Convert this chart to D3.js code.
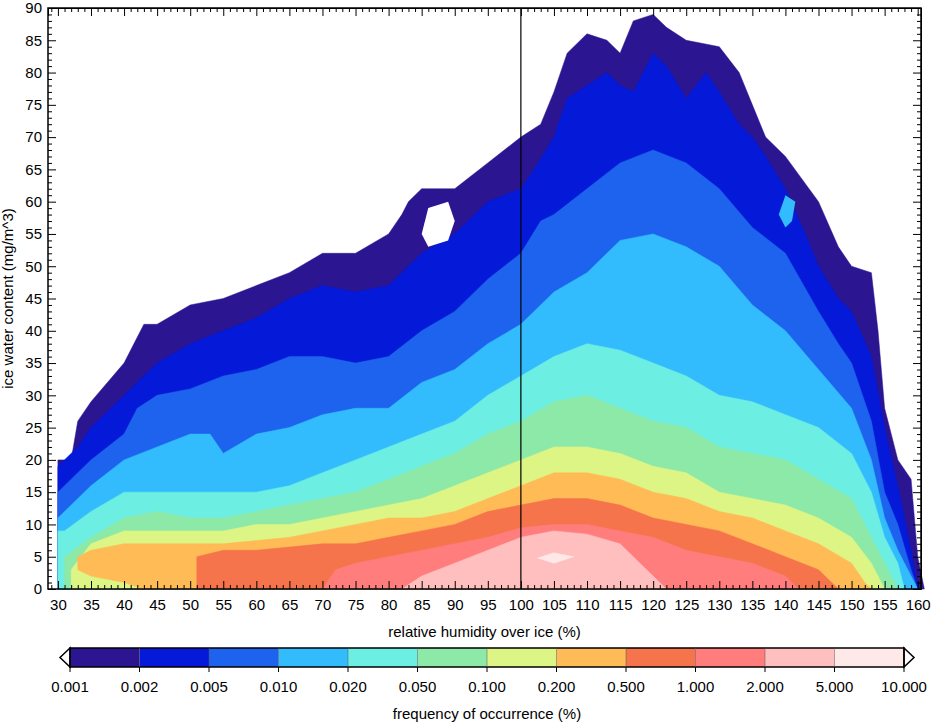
<!DOCTYPE html>
<html><head><meta charset="utf-8">
<script src="https://cdn.jsdelivr.net/npm/d3@7"></script>
<style>body{margin:0;background:#fff}text{font-family:"Liberation Sans Narrow","Liberation Sans",sans-serif}</style>
</head><body><svg id="c" width="935" height="723"></svg>
<script>
// contour levels and colours (frequency of occurrence, %)
var levels = ["0.001","0.002","0.005","0.010","0.020","0.050","0.100","0.200","0.500","1.000","2.000","5.000","10.000"];
var colors = ["#2b1590","#0519d8","#1e63ee","#33bcfd","#6ceee2","#8ce9a8","#ddf585","#ffbb56","#f5744b","#ff7d7d","#ffbfbf","#ffe8e8"];

// each band: [rh, top, bottom] of the region where frequency >= level
var band0 = [[30,0,0],[30,20,0],[32,20,0],[33,26,0],[35,29,0],[40,35,0],[43,41,0],[45,41,0],[50,44,0],[55,45,0],[60,47,0],[65,49,0],[70,52,0],[75,52,0],[80,55,0],[82,58,0],[83,60,0],[85,62,0],[90,62,0],[95,66,0],[100,70,0],[103,72,0],[105,77,0],[107,83,0],[110,86,0],[113,85,0],[115,83,0],[117,88,0],[120,89,0],[122,87,0],[125,85,0],[130,84,0],[133,80,0],[135,75,0],[137,70,0],[140,67,0],[145,60,0],[148,53,0],[150,50,0],[153,49,0],[154,40,0],[155,28,0],[157,20,0],[159,17,0],[160,5,0],[161,0,0]];
var band1 = [[30,0,0],[30,19,0],[33,22,0],[35,25,0],[40,30,0],[45,35,0],[50,38,0],[55,40,0],[60,42,0],[65,45,0],[70,47,0],[75,46,0],[80,47,0],[85,52,0],[90,55,0],[95,60,0],[100,62,0],[102,65,0],[105,70,0],[107,76,0],[110,78,0],[113,80,0],[115,78,0],[117,77,0],[120,83,0],[122,81,0],[125,76,0],[128,80,0],[130,77,0],[133,72,0],[135,70,0],[137,67,0],[140,62,0],[143,55,0],[145,50,0],[148,45,0],[150,43,0],[153,36,0],[155,25,0],[157,16,0],[159,6,0],[160,0,0]];
var band2 = [[30,0,0],[30,15,0],[33,18,0],[35,20,0],[40,24,0],[42,28,0],[45,30,0],[50,31,0],[55,33,0],[60,34,0],[65,36,0],[70,36,0],[75,35,0],[80,36,0],[85,40,0],[90,43,0],[95,48,0],[100,52,0],[103,57,0],[105,58,0],[110,62,0],[115,66,0],[120,68,0],[125,66,0],[130,62,0],[135,56,0],[140,52,0],[145,43,0],[148,38,0],[150,35,0],[153,26,0],[155,15,0],[157,10,0],[159,3,0],[160,0,0]];
var band3 = [[30,0,0],[30,11,0],[35,16,0],[40,20,0],[45,22,0],[50,24,0],[53,24,0],[55,21,0],[60,24,0],[65,25,0],[70,27,0],[75,28,0],[80,28,0],[85,32,0],[90,34,0],[95,38,0],[100,41,0],[105,46,0],[110,49,0],[115,54,0],[120,55,0],[125,53,0],[130,50,0],[135,44,0],[140,40,0],[145,34,0],[150,28,0],[153,20,0],[155,11,0],[157,6,0],[159,2,0],[160,0,0]];
var band4 = [[30,0,0],[30,9,0],[31,9,0],[35,12,0],[40,15,0],[45,15,0],[50,15,0],[55,15,0],[60,15,0],[65,16,0],[70,18,0],[75,20,0],[80,22,0],[85,24,0],[90,26,0],[95,30,0],[100,33,0],[105,36,0],[110,38,0],[115,37,0],[120,35,0],[125,33,0],[130,30,0],[135,29,0],[140,27,0],[145,25,0],[150,21,0],[153,15,0],[155,8,0],[157,4,0],[158,0,0]];
var band5 = [[31,0,0],[31,5,0],[35,8,0],[40,11,0],[45,12,0],[50,11,0],[55,11,0],[60,12,0],[65,13,0],[70,14,0],[75,15,0],[80,17,0],[85,19,0],[90,21,0],[95,24,0],[100,26,0],[105,29,0],[110,30,0],[115,28,0],[120,26,0],[125,25,0],[130,22,0],[135,21,0],[140,20,0],[145,17,0],[150,14,0],[153,8,0],[156,2,0],[157,0,0]];
var band6 = [[32,0,0],[32,3,0],[35,7,0],[40,9,0],[45,9,0],[50,9,0],[55,9,0],[60,10,0],[65,10,0],[70,11,0],[75,12,0],[80,13,0],[85,14,0],[90,16,0],[95,18,0],[100,20,0],[105,22,0],[110,22,0],[115,21,0],[120,19,0],[125,18,0],[130,15,0],[135,14,0],[140,13,0],[145,11,0],[150,8,0],[153,4,0],[155,0,0]];
var band7 = [[33,4,4],[33,5,3],[35,6,2],[40,7,1],[43,7,0],[50,7,0],[55,7,0],[60,7.5,0],[65,8,0],[70,9,0],[75,10,0],[80,11,0],[85,11,0],[90,12,0],[95,14,0],[100,16,0],[105,18,0],[110,18,0],[115,17,0],[120,15,0],[125,14,0],[130,12,0],[135,11,0],[140,9,0],[145,7,0],[150,4,0],[152,1,0],[153,0,0]];
var band8 = [[51,0,0],[51,5,0],[55,6,0],[60,6,0],[65,6.5,0],[70,7,0],[75,7,0],[80,8,0],[85,9,0],[90,10,0],[95,12,0],[100,13,0],[105,14,0],[110,14,0],[115,13,0],[120,11,0],[125,10,0],[130,9,0],[135,7,0],[140,5,0],[145,3,0],[148,0,0]];
var band9 = [[70,0,0],[72,3,0],[75,4,0],[80,5,0],[85,6,0],[90,7,0],[95,8,0],[100,9.5,0],[105,10,0],[110,10,0],[115,9,0],[120,8,0],[125,6,0],[130,5,0],[135,4,0],[140,2,0],[142,0,0]];
var band10 = [[82,0,0],[85,2,0],[90,4,0],[95,6,0],[100,8,0],[105,9,0],[110,8.5,0],[115,7,0],[118,4,0],[120,2,0],[122,0,0]];
var band11 = [[102.5,4.8,4.8],[105,5.6,4],[108,5,5]];
var bands = [band0,band1,band2,band3,band4,band5,band6,band7,band8,band9,band10,band11];

// islands inside the upper bands
var holeWhite = [[85,55],[86,59],[89,60],[90,57],[89,54],[86,53]];
var holeSky = [[139,58],[140,61],[141.5,60],[141,57],[140,56]];

var xTicks = d3.range(30, 161, 5);
var yTicks = d3.range(0, 91, 5);

var svg = d3.select("#c");
var L = 48, R = 921, T = 8, B = 589;
var x = d3.scaleLinear().domain([28.5, 160.5]).range([L, R]);
var y = d3.scaleLinear().domain([0, 90]).range([B, T]);

var area = d3.area().x(function(d){return x(d[0]);}).y0(function(d){return y(d[2]);}).y1(function(d){return y(d[1]);});
var plot = svg.append("g");
bands.forEach(function(b, i){
  plot.append("path").attr("d", area(b)).attr("fill", colors[i]).attr("stroke", colors[i]).attr("stroke-width", 0.5);
});
var line = d3.line().x(function(d){return x(d[0]);}).y(function(d){return y(d[1]);});
plot.append("path").attr("d", line(holeWhite) + "Z").attr("fill", "#fff");
plot.append("path").attr("d", line(holeSky) + "Z").attr("fill", colors[3]);

plot.append("line").attr("x1", x(100)).attr("x2", x(100)).attr("y1", T).attr("y2", B).attr("stroke", "#000").attr("stroke-width", 1.2);

// axes
function ax(g, gen){ g.call(gen); g.select(".domain").remove(); g.selectAll("text").attr("font-size", 15).attr("fill", "#000"); }
var xa = d3.axisBottom(x).tickValues(xTicks).tickSize(-8).tickPadding(10);
svg.append("g").attr("transform", "translate(0," + B + ")").call(function(g){ax(g, xa);});
svg.append("g").attr("transform", "translate(0," + T + ")").call(d3.axisTop(x).tickValues(xTicks).tickSize(-8).tickFormat(""));
var xm = d3.range(29, 161, 1).filter(function(v){return v % 5;});
svg.append("g").attr("transform", "translate(0," + B + ")").call(d3.axisBottom(x).tickValues(xm).tickSize(-4).tickFormat("")).select(".domain").remove();
svg.append("g").attr("transform", "translate(0," + T + ")").call(d3.axisTop(x).tickValues(xm).tickSize(-4).tickFormat("")).select(".domain").remove();
var ya = d3.axisLeft(y).tickValues(yTicks).tickSize(-8).tickPadding(6);
svg.append("g").attr("transform", "translate(" + L + ",0)").call(function(g){ax(g, ya);});
svg.append("g").attr("transform", "translate(" + R + ",0)").call(d3.axisRight(y).tickValues(yTicks).tickSize(-8).tickFormat(""));
var ym = d3.range(0, 91, 1).filter(function(v){return v % 5;});
svg.append("g").attr("transform", "translate(" + L + ",0)").call(d3.axisLeft(y).tickValues(ym).tickSize(-4).tickFormat("")).select(".domain").remove();
svg.append("g").attr("transform", "translate(" + R + ",0)").call(d3.axisRight(y).tickValues(ym).tickSize(-4).tickFormat("")).select(".domain").remove();
svg.selectAll(".tick line").attr("stroke", "#000");
svg.append("rect").attr("x", L).attr("y", T).attr("width", R - L).attr("height", B - T).attr("fill", "none").attr("stroke", "#000").attr("stroke-width", 1.5);

svg.append("text").attr("x", (L + R) / 2).attr("y", 637).attr("text-anchor", "middle").attr("font-size", 15).text("relative humidity over ice (%)");
svg.append("text").attr("transform", "translate(13," + (T + B) / 2 + ") rotate(-90)").attr("text-anchor", "middle").attr("font-size", 15).text("ice water content (mg/m^3)");

// colour bar
var cb = d3.scaleBand().domain(d3.range(12)).range([70, 904]);
var cbT = 648, cbH = 19;
var cg = svg.append("g");
cg.selectAll("rect").data(colors).enter().append("rect")
  .attr("x", function(d, i){return cb(i);}).attr("y", cbT).attr("width", cb.bandwidth()).attr("height", cbH).attr("fill", function(d){return d;});
cg.append("path").attr("d", "M70," + cbT + "L60," + (cbT + cbH / 2) + "L70," + (cbT + cbH) + "Z").attr("fill", "#fff").attr("stroke", "#000").attr("stroke-width", 1.5);
cg.append("path").attr("d", "M904," + cbT + "L914," + (cbT + cbH / 2) + "L904," + (cbT + cbH) + "Z").attr("fill", "#fff").attr("stroke", "#000").attr("stroke-width", 1.5);
cg.append("rect").attr("x", 70).attr("y", cbT).attr("width", 834).attr("height", cbH).attr("fill", "none").attr("stroke", "#000").attr("stroke-width", 1.5);
cg.selectAll(".sep").data(d3.range(1, 12)).enter().append("line").attr("x1", function(i){return cb(i);}).attr("x2", function(i){return cb(i);}).attr("y1", cbT).attr("y2", cbT + cbH).attr("stroke", "#555").attr("stroke-width", 0.5);
cg.selectAll(".lt").data(levels).enter().append("line")
  .attr("x1", function(d, i){return 70 + i * cb.step();}).attr("x2", function(d, i){return 70 + i * cb.step();})
  .attr("y1", cbT + cbH).attr("y2", cbT + cbH + 5).attr("stroke", "#000");
cg.selectAll(".lb").data(levels).enter().append("text")
  .attr("x", function(d, i){return 70 + i * cb.step();}).attr("y", 692).attr("text-anchor", "middle").attr("font-size", 15).text(function(d){return d;});
svg.append("text").attr("x", 487).attr("y", 719).attr("text-anchor", "middle").attr("font-size", 15).text("frequency of occurrence (%)");
</script></body></html>
